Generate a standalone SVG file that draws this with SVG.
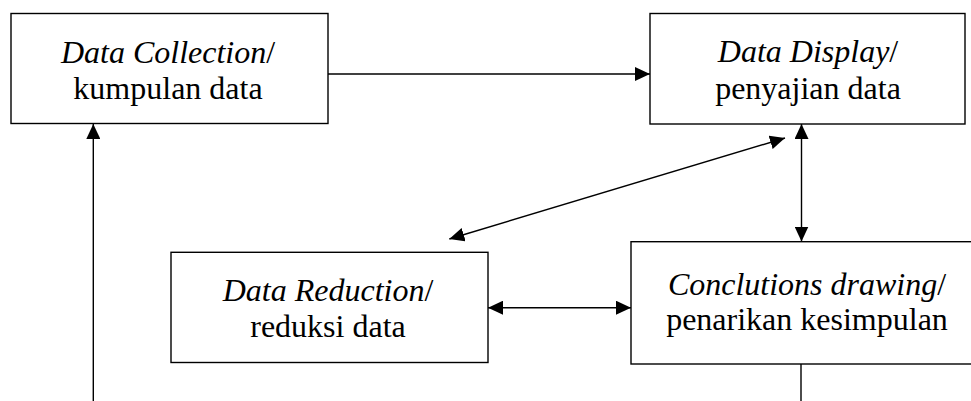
<svg xmlns="http://www.w3.org/2000/svg" width="971" height="401" viewBox="0 0 971 401">
<style>
.box{fill:#fff;stroke:#000;stroke-width:1.4}
.t{font-size:32px;fill:#000;text-anchor:middle}
.i{font-style:italic}
.c{stroke:#000;stroke-width:1.4;fill:none}
</style>
<defs>
<marker id="ah" viewBox="0 0 15 14" refX="15" refY="7" markerWidth="15" markerHeight="14" markerUnits="userSpaceOnUse" orient="auto-start-reverse">
<path d="M0,0 L15,7 L0,14 z" fill="#000"/>
</marker>
</defs>
<rect width="971" height="401" fill="#fff"/>
<g id="connectors">
<line class="c" x1="328" y1="74" x2="650" y2="74" marker-end="url(#ah)"/>
<line class="c" x1="93.3" y1="401" x2="93.3" y2="124" marker-end="url(#ah)"/>
<line class="c" x1="801.5" y1="124" x2="801.5" y2="241.5" marker-start="url(#ah)" marker-end="url(#ah)"/>
<line class="c" x1="785" y1="138" x2="449.3" y2="239" marker-start="url(#ah)" marker-end="url(#ah)"/>
<line class="c" x1="488" y1="307.7" x2="631" y2="307.7" marker-start="url(#ah)" marker-end="url(#ah)"/>
<line class="c" x1="801" y1="364" x2="801" y2="401"/>
</g>
<g font-family="Liberation Serif, Times New Roman, DejaVu Serif, serif">
<g id="collection">
<rect class="box" x="11" y="13.5" width="317" height="110"/>
<text class="t" x="168" y="63"><tspan class="i">Data Collection</tspan>/</text>
<text class="t" x="168" y="99">kumpulan data</text>
</g>
<g id="display">
<rect class="box" x="650" y="13.5" width="315" height="110.5"/>
<text class="t" x="808" y="62"><tspan class="i">Data Display</tspan>/</text>
<text class="t" x="808" y="99">penyajian data</text>
</g>
<g id="reduction">
<rect class="box" x="171" y="252.3" width="317" height="110.2"/>
<text class="t" x="328" y="300.7"><tspan class="i">Data Reduction</tspan>/</text>
<text class="t" x="328" y="336.7">reduksi data</text>
</g>
<g id="conclusions">
<rect class="box" x="631" y="241.7" width="352" height="122.3"/>
<text class="t" x="807" y="295"><tspan class="i">Conclutions drawing</tspan>/</text>
<text class="t" x="807" y="330">penarikan kesimpulan</text>
</g>
</g>
</svg>
